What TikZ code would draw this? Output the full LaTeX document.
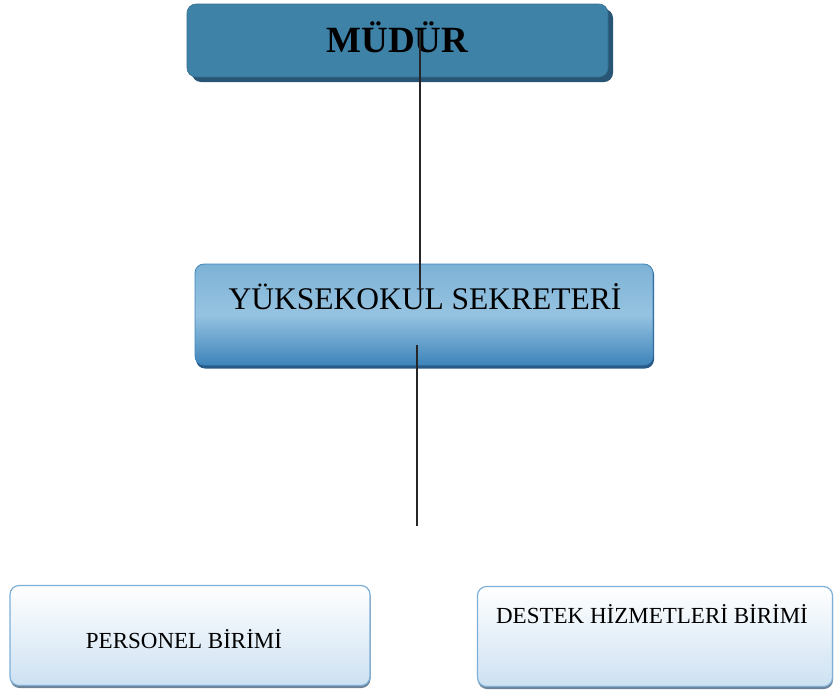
\documentclass[tikz,border=0pt]{standalone}
\usepackage{fontspec}
\setmainfont{Liberation Serif}
\definecolor{mudurfill}{RGB}{62,130,168}
\definecolor{mudurshadow}{RGB}{40,85,115}
\definecolor{sekTop}{RGB}{125,178,214}
\definecolor{sekMid}{RGB}{150,195,225}
\definecolor{sekBot}{RGB}{62,132,186}
\definecolor{sekShadow}{RGB}{40,90,135}
\definecolor{unitBorder}{RGB}{125,175,215}
\definecolor{unitBot}{RGB}{205,225,242}
\definecolor{unitShadow}{RGB}{110,130,150}
\begin{document}
\begin{tikzpicture}[x=1pt,y=-1pt,
  boxbase/.style={rectangle, rounded corners=9pt, inner sep=0pt},
  mudurbox/.style={boxbase, fill=mudurfill, draw=mudurfill!85!black, line width=0.6pt},
  sekbox/.style={boxbase, top color=sekTop, bottom color=sekBot, middle color=sekMid, draw=sekBot, line width=0.8pt},
  unitbox/.style={boxbase, top color=white, bottom color=unitBot, draw=unitBorder, line width=1.2pt},
  shadowbox/.style={boxbase},
  lbl/.style={anchor=base, inner sep=0pt, text=black},
  conn/.style={draw=black!85, line width=1.4pt}
]
\useasboundingbox (0,0) rectangle (836,697);
% MÜDÜR
\node[shadowbox, fill=mudurshadow, minimum width=421pt, minimum height=73pt] (mudurS) at (402.5,45.5) {};
\node[mudurbox, minimum width=421pt, minimum height=73pt] (mudur) at (397.5,40.5) {};
\node[lbl, font=\fontsize{37}{44}\selectfont\bfseries] (mudurT) at (397.5,52) {MÜDÜR};
% YÜKSEKOKUL SEKRETERİ
\node[shadowbox, fill=sekShadow, minimum width=458pt, minimum height=103pt] (sekS) at (425,317) {};
\node[sekbox, minimum width=458pt, minimum height=101pt] (sek) at (424,314.5) {};
\node[lbl, font=\fontsize{31.5}{38}\selectfont] (sekT) at (425,309) {YÜKSEKOKUL SEKRETERİ};
% PERSONEL
\node[shadowbox, fill=unitShadow, minimum width=360pt, minimum height=101pt] (perS) at (190.5,637.5) {};
\node[unitbox, minimum width=360pt, minimum height=100pt] (per) at (190,635.5) {};
\node[lbl, font=\fontsize{23}{28}\selectfont] (perT) at (184,648) {PERSONEL BİRİMİ};
% DESTEK
\node[shadowbox, fill=unitShadow, minimum width=355pt, minimum height=101pt] (desS) at (655.5,638.5) {};
\node[unitbox, minimum width=355pt, minimum height=100pt] (des) at (655,636.5) {};
\node[lbl, font=\fontsize{23}{28}\selectfont] (desT) at (652,623) {DESTEK HİZMETLERİ BİRİMİ};
% connectors
\coordinate (c1a) at (420,30);
\coordinate (c1b) at (420,289);
\coordinate (c2a) at (417,345);
\coordinate (c2b) at (417,526);
\draw[conn] (c1a) -- (c1b);
\draw[conn] (c2a) -- (c2b);
\end{tikzpicture}
\end{document}
